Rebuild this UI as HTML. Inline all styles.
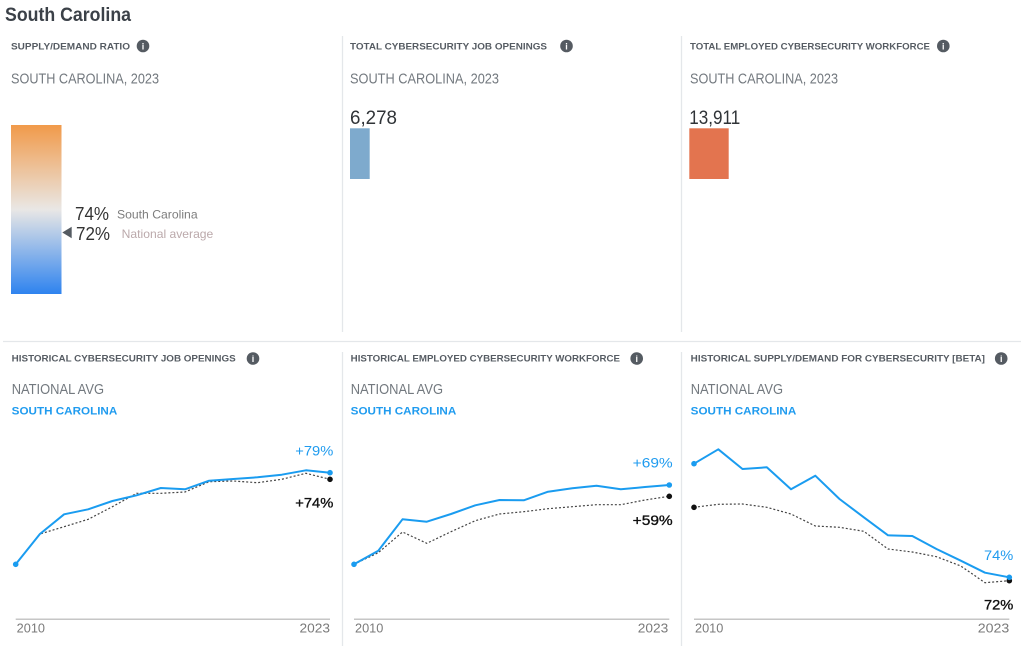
<!DOCTYPE html>
<html><head><meta charset="utf-8"><style>
html,body{margin:0;padding:0;background:#fff;}
svg{display:block;}
text{font-family:"Liberation Sans",Arial,sans-serif;}
.hd{font-size:9.3px;font-weight:bold;fill:#565c63;}
.sub{font-size:14.8px;fill:#73797f;}
.big{font-size:19px;fill:#2f3337;}
.sc{font-size:10.8px;font-weight:bold;fill:#1f9bef;}
.yr{font-size:12.5px;fill:#7a7a7a;}
.pb{font-size:14px;fill:#1f9bef;}
.pk{font-size:14px;fill:#111;stroke:#111;stroke-width:0.35;}
.blue{fill:none;stroke:#1a9cf0;stroke-width:2;stroke-linejoin:round;}
.dot{fill:none;stroke:#444;stroke-width:1.2;stroke-dasharray:2,2;}
.ax{stroke:#c6c6c6;stroke-width:1.5;}
.dv{stroke:#e4e7ea;stroke-width:1.3;}
</style></head><body>
<svg width="1024" height="646" viewBox="0 0 1024 646" xmlns="http://www.w3.org/2000/svg">
<defs>
<linearGradient id="g" x1="0" y1="0" x2="0" y2="1">
<stop offset="0" stop-color="#f19a4a"/>
<stop offset="0.5" stop-color="#e9e7e5"/>
<stop offset="1" stop-color="#2e83ef"/>
</linearGradient>
</defs>

<!-- title -->
<text x="5" y="21" font-size="19" font-weight="bold" fill="#3b4148" textLength="126" lengthAdjust="spacingAndGlyphs">South Carolina</text>

<!-- dividers -->
<line class="dv" x1="342.5" y1="36" x2="342.5" y2="332"/>
<line class="dv" x1="681.5" y1="36" x2="681.5" y2="332"/>
<line class="dv" x1="3" y1="341.5" x2="1021" y2="341.5"/>
<line class="dv" x1="342.5" y1="352" x2="342.5" y2="646"/>
<line class="dv" x1="681.5" y1="352" x2="681.5" y2="646"/>

<!-- top panel 1 -->
<text class="hd" x="11" y="49.5" textLength="119" lengthAdjust="spacingAndGlyphs">SUPPLY/DEMAND RATIO</text>
<circle cx="143" cy="46" r="6.3" fill="#555b62"/><text x="143" y="49.6" font-size="9" font-weight="bold" fill="#fff" text-anchor="middle">i</text>
<text class="sub" x="11" y="83.3" textLength="148" lengthAdjust="spacingAndGlyphs">SOUTH CAROLINA, 2023</text>
<rect x="11" y="125" width="50.5" height="169" fill="url(#g)"/>
<text x="75" y="220" font-size="18" fill="#333" textLength="34" lengthAdjust="spacingAndGlyphs">74%</text>
<text x="117" y="218.3" font-size="12" fill="#7d7d7d" textLength="80.6" lengthAdjust="spacingAndGlyphs">South Carolina</text>
<polygon points="62.3,232.5 71.7,226.7 71.7,238.3" fill="#555b62"/>
<text x="76" y="240" font-size="18" fill="#333" textLength="34" lengthAdjust="spacingAndGlyphs">72%</text>
<text x="121.7" y="238" font-size="12" fill="#bba9ab" textLength="91.6" lengthAdjust="spacingAndGlyphs">National average</text>

<!-- top panel 2 -->
<text class="hd" x="350" y="49.5" textLength="197" lengthAdjust="spacingAndGlyphs">TOTAL CYBERSECURITY JOB OPENINGS</text>
<circle cx="566.5" cy="46" r="6.3" fill="#555b62"/><text x="566.5" y="49.6" font-size="9" font-weight="bold" fill="#fff" text-anchor="middle">i</text>
<text class="sub" x="350" y="83.3" textLength="149" lengthAdjust="spacingAndGlyphs">SOUTH CAROLINA, 2023</text>
<text class="big" x="350" y="124" textLength="47" lengthAdjust="spacingAndGlyphs">6,278</text>
<rect x="350" y="128.3" width="19.7" height="50.7" fill="#7eaacd"/>

<!-- top panel 3 -->
<text class="hd" x="690" y="49.5" textLength="240" lengthAdjust="spacingAndGlyphs">TOTAL EMPLOYED CYBERSECURITY WORKFORCE</text>
<circle cx="943.3" cy="46" r="6.3" fill="#555b62"/><text x="943.3" y="49.6" font-size="9" font-weight="bold" fill="#fff" text-anchor="middle">i</text>
<text class="sub" x="690" y="83.3" textLength="148" lengthAdjust="spacingAndGlyphs">SOUTH CAROLINA, 2023</text>
<text class="big" x="689.3" y="124" textLength="51" lengthAdjust="spacingAndGlyphs">13,911</text>
<rect x="689.3" y="128.3" width="39.4" height="50.7" fill="#e3744f"/>

<!-- bottom panel 1 -->
<text class="hd" x="11.7" y="361.7" textLength="224" lengthAdjust="spacingAndGlyphs">HISTORICAL CYBERSECURITY JOB OPENINGS</text>
<circle cx="253" cy="358.5" r="6.3" fill="#555b62"/><text x="253" y="362.1" font-size="9" font-weight="bold" fill="#fff" text-anchor="middle">i</text>
<text class="sub" x="11.7" y="394" textLength="92.3" lengthAdjust="spacingAndGlyphs">NATIONAL AVG</text>
<text class="sc" x="11.7" y="414.3" textLength="105.6" lengthAdjust="spacingAndGlyphs">SOUTH CAROLINA</text>
<line class="ax" x1="15.7" y1="619.3" x2="330" y2="619.3"/>
<text class="yr" x="16.7" y="632.3" textLength="28.3" lengthAdjust="spacingAndGlyphs">2010</text>
<text class="yr" x="330" y="632.3" text-anchor="end" textLength="30.5" lengthAdjust="spacingAndGlyphs">2023</text>
<polyline class="dot" points="15.7,564.3 39.9,534 64.1,526.7 88.2,519.3 112.4,506.7 136.6,493.3 160.8,493.3 185,492 209.1,481.7 233.3,481 257.5,482.7 281.7,479.3 305.9,473.3 330,479.3"/>
<polyline class="blue" points="15.7,564.3 39.9,534 64.1,514.3 88.2,509.3 112.4,501 136.6,495.3 160.8,488 185,489.3 209.1,480.7 233.3,479 257.5,477.3 281.7,474.7 305.9,470.3 330,472.7"/>
<circle cx="15.7" cy="564.3" r="2.8" fill="#1a9cf0"/>
<circle cx="330" cy="479.3" r="2.8" fill="#111"/>
<circle cx="330" cy="472.7" r="2.8" fill="#1a9cf0"/>
<text class="pb" x="333.3" y="455.7" text-anchor="end" textLength="38" lengthAdjust="spacingAndGlyphs">+79%</text>
<text class="pk" x="333.3" y="507.7" text-anchor="end" textLength="38" lengthAdjust="spacingAndGlyphs">+74%</text>

<!-- bottom panel 2 -->
<text class="hd" x="350.7" y="361.7" textLength="269.3" lengthAdjust="spacingAndGlyphs">HISTORICAL EMPLOYED CYBERSECURITY WORKFORCE</text>
<circle cx="636.7" cy="358.5" r="6.3" fill="#555b62"/><text x="636.7" y="362.1" font-size="9" font-weight="bold" fill="#fff" text-anchor="middle">i</text>
<text class="sub" x="350.7" y="394" textLength="92.3" lengthAdjust="spacingAndGlyphs">NATIONAL AVG</text>
<text class="sc" x="350.7" y="414.3" textLength="105.6" lengthAdjust="spacingAndGlyphs">SOUTH CAROLINA</text>
<line class="ax" x1="354" y1="619.3" x2="669.3" y2="619.3"/>
<text class="yr" x="355" y="632.3" textLength="28.3" lengthAdjust="spacingAndGlyphs">2010</text>
<text class="yr" x="668.3" y="632.3" text-anchor="end" textLength="30.5" lengthAdjust="spacingAndGlyphs">2023</text>
<polyline class="dot" points="354,564.3 378.3,552.7 402.5,532 426.8,543.3 451,531.7 475.3,520.7 499.5,514 523.8,511.7 548,508.7 572.3,506.7 596.5,504.7 620.8,504.7 645,500 669.3,496.3"/>
<polyline class="blue" points="354,564.3 378.3,550.7 402.5,519.3 426.8,521.7 451,514 475.3,505.3 499.5,500 523.8,500.3 548,491.7 572.3,488.3 596.5,485.7 620.8,489.3 645,487 669.3,485"/>
<circle cx="354" cy="564.3" r="2.8" fill="#1a9cf0"/>
<circle cx="669.3" cy="496.3" r="2.8" fill="#111"/>
<circle cx="669.3" cy="485" r="2.8" fill="#1a9cf0"/>
<text class="pb" x="672.7" y="467.7" text-anchor="end" textLength="40" lengthAdjust="spacingAndGlyphs">+69%</text>
<text class="pk" x="672.7" y="525" text-anchor="end" textLength="40" lengthAdjust="spacingAndGlyphs">+59%</text>

<!-- bottom panel 3 -->
<text class="hd" x="690.7" y="361.7" textLength="294.3" lengthAdjust="spacingAndGlyphs">HISTORICAL SUPPLY/DEMAND FOR CYBERSECURITY [BETA]</text>
<circle cx="1001.2" cy="358.5" r="6.3" fill="#555b62"/><text x="1001.2" y="362.1" font-size="9" font-weight="bold" fill="#fff" text-anchor="middle">i</text>
<text class="sub" x="690.7" y="394" textLength="92.3" lengthAdjust="spacingAndGlyphs">NATIONAL AVG</text>
<text class="sc" x="690.7" y="414.3" textLength="105.6" lengthAdjust="spacingAndGlyphs">SOUTH CAROLINA</text>
<line class="ax" x1="694" y1="619.3" x2="1009.3" y2="619.3"/>
<text class="yr" x="695" y="632.3" textLength="28.3" lengthAdjust="spacingAndGlyphs">2010</text>
<text class="yr" x="1009.3" y="632.3" text-anchor="end" textLength="31.5" lengthAdjust="spacingAndGlyphs">2023</text>
<polyline class="dot" points="694,507.3 718.3,504.3 742.5,504 766.8,507.3 791,514 815.3,526 839.5,527.3 863.8,531.3 888,549 912.3,552 936.5,556.7 960.8,566 985,582.7 1009.3,580.7"/>
<polyline class="blue" points="694,463.7 718.3,449.3 742.5,469 766.8,467.3 791,489.3 815.3,475.7 839.5,499 863.8,517.3 888,535.3 912.3,536 936.5,549 960.8,560.7 985,572.7 1009.3,577.3"/>
<circle cx="694" cy="463.7" r="2.8" fill="#1a9cf0"/>
<circle cx="694" cy="507.3" r="2.8" fill="#111"/>
<circle cx="1009.3" cy="580.7" r="2.8" fill="#111"/>
<circle cx="1009.3" cy="577.3" r="2.8" fill="#1a9cf0"/>
<text class="pb" x="1013.3" y="560" text-anchor="end" textLength="29.3" lengthAdjust="spacingAndGlyphs">74%</text>
<text class="pk" x="1013.3" y="609.3" text-anchor="end" textLength="29.3" lengthAdjust="spacingAndGlyphs">72%</text>
</svg>
</body></html>
